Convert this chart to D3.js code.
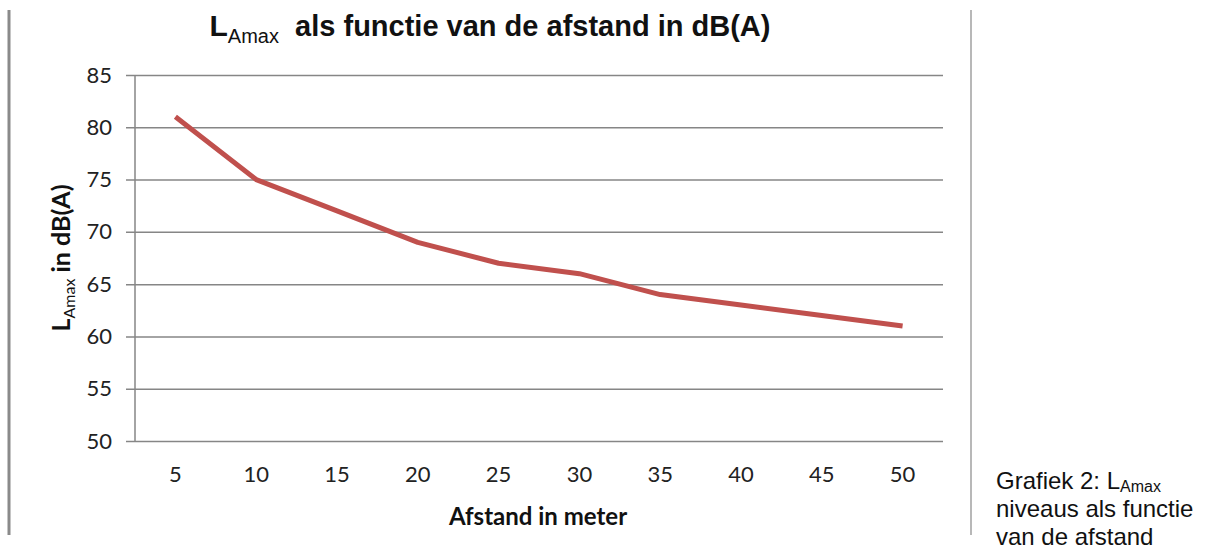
<!DOCTYPE html>
<html>
<head>
<meta charset="utf-8">
<style>
    body { margin: 0; background: #fff; }
    svg { display: block; }
    .y .domain { display: none; }
    .x .domain { display: none; }
    .y .tick line { stroke: #868686; stroke-width: 1.5px; }
    .x .tick line { display: none; }
    .tick text { font-family: Lato, 'Open Sans', sans-serif; font-size: 22px; fill: #222; }
</style>
</head>
<body>
<svg width="1226" height="552"></svg>
<script src="https://d3js.org/d3.v7.min.js"></script>
<script>
    // data
    let afstand = [5, 10, 15, 20, 25, 30, 35, 40, 45, 50]
    let lamax = [81, 75, 72, 69, 67, 66, 64, 63, 62, 61]
    let yTicks = [50, 55, 60, 65, 70, 75, 80, 85]

    let svg = d3.select("svg")

    let margin = { top: 75, right: 283, bottom: 111, left: 135 }
    let width = 1226, height = 552

    let x = d3.scaleBand()
        .domain(afstand)
        .range([margin.left, width - margin.right])

    let y = d3.scaleLinear()
        .domain([50, 85])
        .range([height - margin.bottom, margin.top])

    // side rules
    svg.append("line")
        .attr("x1", 9).attr("x2", 9).attr("y1", 10).attr("y2", 535)
        .style("stroke", "#8a8a8a").style("stroke-width", "3px")
    svg.append("line")
        .attr("x1", 971).attr("x2", 971).attr("y1", 10).attr("y2", 535)
        .style("stroke", "#a0a0a0").style("stroke-width", "1.5px")

    // y axis with gridlines
    svg.append("g")
        .attr("class", "y axis")
        .attr("transform", `translate(${width - margin.right},0)`)
        .call(d3.axisLeft(y)
            .tickValues(yTicks)
            .tickSize(width - margin.right - margin.left + 9)
            .tickPadding(14))

    // vertical axis line
    svg.append("line")
        .attr("x1", margin.left).attr("x2", margin.left)
        .attr("y1", y(85)).attr("y2", y(50))
        .style("stroke", "#868686").style("stroke-width", "1.5px")

    svg.append("g")
        .attr("class", "x axis")
        .attr("transform", `translate(0,${y(50)})`)
        .call(d3.axisBottom(x).tickSize(0).tickPadding(25))

    let line = d3.line()
        .x((d, i) => x(afstand[i]) + x.bandwidth() / 2)
        .y(d => y(d))

    svg.append("path")
        .datum(lamax)
        .attr("d", line)
        .style("fill", "none")
        .style("stroke", "#C0504D")
        .style("stroke-width", "5px")
        .style("stroke-linejoin", "round")

    // title
    let title = svg.append("text")
        .attr("x", 490).attr("y", 36)
        .attr("text-anchor", "middle")
        .style("font-family", "'Liberation Sans', Arial, sans-serif")
        .style("font-size", "29px")
        .style("font-weight", "bold")
        .style("fill", "#111")
    title.append("tspan").text("L").style("font-size", "30px")
    title.append("tspan").text("Amax").attr("dy", 7)
        .style("font-size", "20px").style("font-weight", "normal")
    title.append("tspan").text("\u00a0 als functie van de afstand in dB(A)").attr("dy", -7)

    // y title
    let ytitle = svg.append("text")
        .attr("transform", "translate(70,258) rotate(-90)")
        .attr("text-anchor", "middle")
        .style("font-family", "Lato, 'Open Sans', sans-serif")
        .style("font-size", "25px")
        .style("font-weight", "bold")
        .style("fill", "#111")
    ytitle.append("tspan").text("L")
    ytitle.append("tspan").text("Amax").attr("dy", 5)
        .style("font-size", "16px").style("font-weight", "normal")
    ytitle.append("tspan").text(" in dB(A)").attr("dy", -5)

    // x title
    svg.append("text")
        .attr("x", 538).attr("y", 525)
        .attr("text-anchor", "middle")
        .style("font-family", "Lato, 'Open Sans', sans-serif")
        .style("font-size", "24px")
        .style("font-weight", "bold")
        .style("fill", "#111")
        .text("Afstand in meter")

    // caption
    let cap = svg.append("text")
        .style("font-family", "'Liberation Sans', Arial, sans-serif")
        .style("font-size", "24px")
        .style("fill", "#111")
    let l1 = cap.append("tspan").attr("x", 996).attr("y", 489)
    l1.append("tspan").text("Grafiek 2: L")
    l1.append("tspan").text("Amax").attr("dy", 3).style("font-size", "16px")
    cap.append("tspan").attr("x", 996).attr("y", 517).text("niveaus als functie")
    cap.append("tspan").attr("x", 996).attr("y", 545).text("van de afstand")
</script>
</body>
</html>
